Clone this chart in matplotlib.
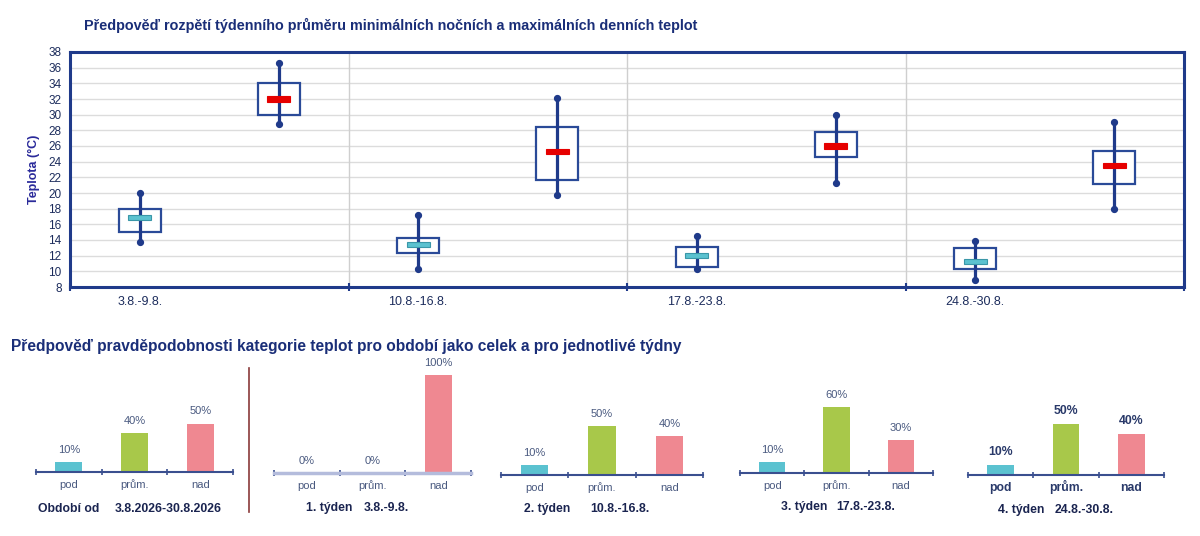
import numpy as np
import matplotlib
matplotlib.use('Agg')
import matplotlib.pyplot as plt

plt.rcParams['font.family'] = ['Liberation Sans', 'DejaVu Sans']

# Horní graf - rozpětí týdenních průměrů
weeks = ['3.8.-9.8.', '10.8.-16.8.', '17.8.-23.8.', '24.8.-30.8.']

# minimální noční teploty
tmin_low = [13.7, 10.3, 10.3, 8.9]
tmin_q1 = [15.0, 12.4, 10.6, 10.3]
tmin_mean = [16.9, 13.4, 12.0, 11.2]
tmin_q3 = [18.0, 14.3, 13.1, 13.0]
tmin_high = [20.0, 17.2, 14.5, 13.9]

# maximální denní teploty
tmax_low = [28.8, 19.7, 21.3, 18.0]
tmax_q1 = [30.0, 21.6, 24.6, 21.2]
tmax_mean = [32.0, 25.3, 26.0, 23.5]
tmax_q3 = [34.0, 28.4, 27.8, 25.4]
tmax_high = [36.6, 32.1, 30.0, 29.1]

# Spodní grafy - pravděpodobnosti kategorií
categories = ['pod', 'prům.', 'nad']
panel_titles = [('Období od', '3.8.2026-30.8.2026'),
                ('1. týden', '3.8.-9.8.'),
                ('2. týden', '10.8.-16.8.'),
                ('3. týden', '17.8.-23.8.'),
                ('4. týden', '24.8.-30.8.')]
probs = [[10, 40, 50],
         [0, 0, 100],
         [10, 50, 40],
         [10, 60, 30],
         [10, 50, 40]]

navy = '#1f3a8a'
title_col = '#1a2e78'
bar_cols = ['#5bc2d0', '#a8c84a', '#ef8891']

W, H = 1200, 536
fig = plt.figure(figsize=(W / 100, H / 100), dpi=100)


def px(x0, y0, x1, y1):
    return [x0 / W, 1 - y1 / H, (x1 - x0) / W, (y1 - y0) / H]


# ---------- horní graf ----------
ax = fig.add_axes(px(70, 52, 1184, 287))
ax.set_xlim(0, 4)
ax.set_ylim(8, 38)
ax.set_yticks(np.arange(8, 39, 2))
for y in np.arange(10, 38, 2):
    ax.axhline(y, color='#dcdcdc', lw=1.0, zorder=0)
for x in [1, 2, 3]:
    ax.axvline(x, color='#cfcfcf', lw=1.0, zorder=0)
for s in ax.spines.values():
    s.set_color(navy)
    s.set_linewidth(2.2)

bw = 0.15
mw = 0.083


def draw_box(x, lo, q1, m, q3, hi, mcol, medge):
    ax.add_patch(plt.Rectangle((x - bw / 2, q1), bw, q3 - q1, facecolor='white',
                               edgecolor='#2a4a98', lw=1.6, zorder=3))
    ax.plot([x, x], [lo, hi], color=navy, lw=2.3, zorder=4,
            marker='o', markersize=4.2, markerfacecolor=navy, markeredgecolor=navy)
    ax.add_patch(plt.Rectangle((x - mw / 2, m - 0.32), mw, 0.64, facecolor=mcol,
                               edgecolor=medge, lw=0.8, zorder=5))


for i in range(len(weeks)):
    draw_box(i + 0.25, tmin_low[i], tmin_q1[i], tmin_mean[i], tmin_q3[i], tmin_high[i],
             '#5bc2d0', '#3a97a8')
    draw_box(i + 0.75, tmax_low[i], tmax_q1[i], tmax_mean[i], tmax_q3[i], tmax_high[i],
             '#e60000', '#e60000')

ax.set_xticks([0, 1, 2, 3, 4])
ax.set_xticklabels([])
ax.tick_params(axis='x', direction='inout', length=6, width=1.5, color=navy)
ax.tick_params(axis='y', length=0, pad=6, labelsize=8.5, labelcolor='#1c2c5c')
for i, w in enumerate(weeks):
    ax.text(i + 0.25, 6.8, w, ha='center', va='top', fontsize=9, color='#1c2c5c')
ax.set_ylabel('Teplota (°C)', fontsize=9, fontweight='bold', color='#2a2a9a', labelpad=6)

fig.text(84 / W, 1 - 25 / H,
         'Předpověď rozpětí týdenního průměru minimálních nočních a maximálních denních teplot',
         fontsize=10.4, fontweight='bold', color=title_col, va='center', ha='left')

# ---------- spodní grafy ----------
fig.text(11 / W, 1 - 346 / H,
         'Předpověď pravděpodobnosti kategorie teplot pro období jako celek a pro jednotlivé týdny',
         fontsize=11.2, fontweight='bold', color=title_col, va='center', ha='left')

# (x0, x1, základna, px na %)
panels = [(36, 233, 472, 0.97),
          (274, 471, 473, 0.98),
          (501, 703, 475, 0.98),
          (740, 933, 473, 1.10),
          (968, 1164, 475, 1.03)]
# začátky popisků pod panely (text, datum) a jejich účaří
label_x = [(38, 115), (306, 364), (524, 590), (781, 836), (998, 1055)]
label_y = [512, 511, 512, 510, 513]

for k, (x0, x1, yb, ppp) in enumerate(panels):
    bx = fig.add_axes(px(x0, yb - 115, x1, yb))
    bx.set_xlim(0, 3)
    bx.set_ylim(0, 115 / ppp)
    pos = np.arange(3) + 0.5
    bx.bar(pos, probs[k], width=0.41, color=bar_cols, zorder=2)
    bold = (k == 4)
    for p, v in zip(pos, probs[k]):
        bx.text(p, v + 7 / ppp, f'{v}%', ha='center', va='bottom',
                fontsize=8.8 if bold else 8, color='#2a3a6a' if bold else '#4a5a80',
                fontweight='bold' if bold else 'normal')
    for s in ['top', 'left', 'right']:
        bx.spines[s].set_visible(False)
    axis_col = '#b4bcdc' if k == 1 else '#3a4f8f'
    bx.spines['bottom'].set_color(axis_col)
    bx.spines['bottom'].set_linewidth(2.5 if k == 1 else 1.5)
    bx.set_yticks([])
    bx.set_xticks([0, 1, 2, 3])
    bx.set_xticklabels([])
    bx.tick_params(axis='x', direction='inout', length=5, width=1.2, color='#3a4f8f')
    for p, c in zip(pos, categories):
        bx.text(p, -16 / ppp, c, ha='center', va='baseline',
                fontsize=8.8 if bold else 8, color='#2a3a6a' if bold else '#4a5a80',
                fontweight='bold' if bold else 'normal')
    t1, t2 = panel_titles[k]
    yt = 1 - label_y[k] / H
    fig.text(label_x[k][0] / W, yt, t1, ha='left', va='baseline', fontsize=8.8,
             fontweight='bold', color='#1a2450')
    fig.text(label_x[k][1] / W, yt, t2, ha='left', va='baseline', fontsize=8.8,
             fontweight='bold', color='#1a2450')

# oddělovač
fig.add_artist(plt.Line2D([249 / W, 249 / W], [1 - 368 / H, 1 - 512 / H],
                          color='#8a3a3a', lw=1.2))

fig.savefig('out.png', dpi=100, facecolor='white')
